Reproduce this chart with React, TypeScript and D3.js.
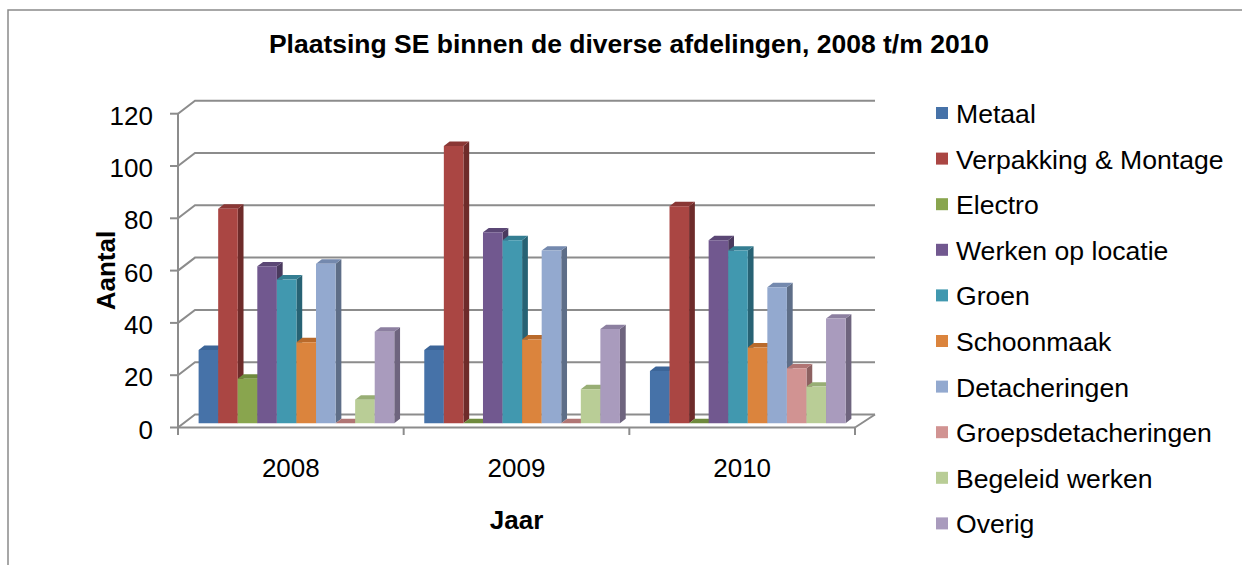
import * as d3 from 'd3'

const years = ['2008', '2009', '2010']
const yTicks = [0, 20, 40, 60, 80, 100, 120]

const seriesNames = [
  'Metaal',
  'Verpakking & Montage',
  'Electro',
  'Werken op locatie',
  'Groen',
  'Schoonmaak',
  'Detacheringen',
  'Groepsdetacheringen',
  'Begeleid werken',
  'Overig',
]

const metaal = [28, 28, 20]
const verpakking = [82, 106, 83]
const electro = [17, 0, 0]
const werken = [60, 73, 70]
const groen = [55, 70, 66]
const schoonmaak = [31, 32, 29]
const detacheringen = [61, 66, 52]
const groepsdetacheringen = [0, 0, 21]
const begeleid = [9, 13, 14]
const overig = [35, 36, 40]

const seriesValues = [metaal, verpakking, electro, werken, groen, schoonmaak, detacheringen, groepsdetacheringen, begeleid, overig]

// front / side / top shades per series (Excel 2007 3D palette)
const frontColors = ['#4672a8', '#aa4643', '#89a54e', '#71588f', '#4198af', '#db843d', '#93a9cf', '#d19392', '#b9cd96', '#a99bbd']
const sideColors = ['#355a86', '#6e2b2a', '#5b7033', '#4a3a5e', '#276274', '#9b5a24', '#5e6e88', '#8d6161', '#7e8e62', '#6e647e']
const topColors = ['#3c6598', '#8a3735', '#6f8a3d', '#5b4775', '#347e92', '#b96a2b', '#7489ae', '#b07574', '#98ae75', '#8c7fa0']

const W = 1242
const H = 565
const FONT = '"Liberation Sans", Arial, sans-serif'
const GRID = '#8c8c8c'

// oblique depth offset (front plane -> back wall)
const DX = 17
const DY = -13
const DX_RIGHT = 20
const T0 = 0.33
const T1 = 0.67

export default function App() {
  const x0 = d3.scaleBand<string>().domain(years).range([178, 855]).padding(0)
  const x1 = d3.scaleBand<string>().domain(seriesNames).range([15, x0.bandwidth() - 15]).padding(0)
  const y = d3.scaleLinear().domain([0, 120]).range([427.5, 113.7])

  const [left, right] = x0.range()
  const pt = (px: number, py: number, t: number) => `${px + t * DX},${py + t * DY}`

  const bars: JSX.Element[] = []
  years.forEach((yr, yi) => {
    seriesNames.forEach((name, si) => {
      const v = seriesValues[si][yi]
      const bx = (x0(yr) ?? 0) + (x1(name) ?? 0)
      const bw = x1.bandwidth()
      const yt = y(v)
      const yb = y(0)
      const key = `${yr}-${si}`
      const top = [pt(bx, yt, T0), pt(bx + bw, yt, T0), pt(bx + bw, yt, T1), pt(bx, yt, T1)].join(' ')
      if (v === 0) {
        bars.push(<polygon key={key} points={top} fill={topColors[si]} />)
        return
      }
      const side = [pt(bx + bw, yt, T0), pt(bx + bw, yt, T1), pt(bx + bw, yb, T1), pt(bx + bw, yb, T0)].join(' ')
      const front = [pt(bx, yt, T0), pt(bx + bw, yt, T0), pt(bx + bw, yb, T0), pt(bx, yb, T0)].join(' ')
      bars.push(
        <g key={key}>
          <polygon points={side} fill={sideColors[si]} />
          <polygon points={top} fill={topColors[si]} />
          <polygon points={front} fill={frontColors[si]} />
        </g>
      )
    })
  })

  return (
    <svg width={W} height={H} style={{ position: 'absolute', left: 0, top: 0, background: '#fff' }} fontFamily={FONT}>
      <rect x={8} y={10} width={W} height={H} fill="#fff" stroke="#8a8a8a" strokeWidth={1.5} />

      <text x={629} y={53} textAnchor="middle" fontSize={26.5} fontWeight="bold">
        Plaatsing SE binnen de diverse afdelingen, 2008 t/m 2010
      </text>

      {/* back wall gridlines + slants */}
      {yTicks.map((t) => (
        <g key={t} stroke={GRID} strokeWidth={2} fill="none">
          <line x1={170} x2={left} y1={y(t)} y2={y(t)} />
          <polyline points={`${left},${y(t)} ${left + DX},${y(t) + DY} ${right + DX_RIGHT},${y(t) + DY}`} />
          <text x={153} y={y(t) + 2} textAnchor="end" dominantBaseline="central" fontSize={26} stroke="none" fill="#000">
            {t}
          </text>
        </g>
      ))}

      {/* floor */}
      <g stroke={GRID} strokeWidth={2} fill="none">
        <line x1={left} x2={left} y1={y(120)} y2={435} />
        <line x1={left} x2={right} y1={y(0)} y2={y(0)} />
        <line x1={right} x2={right + DX_RIGHT} y1={y(0)} y2={y(0) + DY} />
        {[...years.map((yr) => x0(yr) ?? 0), right].map((tx) => (
          <line key={tx} x1={tx} x2={tx} y1={y(0)} y2={435} />
        ))}
      </g>

      {bars}

      {years.map((yr) => (
        <text key={yr} x={(x0(yr) ?? 0) + x0.bandwidth() / 2} y={477} textAnchor="middle" fontSize={26}>
          {yr}
        </text>
      ))}

      <text x={(left + right) / 2} y={529} textAnchor="middle" fontSize={26} fontWeight="bold">
        Jaar
      </text>
      <text transform={`translate(115,${(y(0) + y(120)) / 2}) rotate(-90)`} textAnchor="middle" fontSize={26} fontWeight="bold">
        Aantal
      </text>

      {seriesNames.map((name, i) => {
        const ly = 113 + i * 45.6
        return (
          <g key={name}>
            <rect x={936} y={ly - 6} width={12} height={12} fill={frontColors[i]} />
            <text x={956} y={ly + 1} dominantBaseline="central" fontSize={26.6}>
              {name}
            </text>
          </g>
        )
      })}
    </svg>
  )
}
